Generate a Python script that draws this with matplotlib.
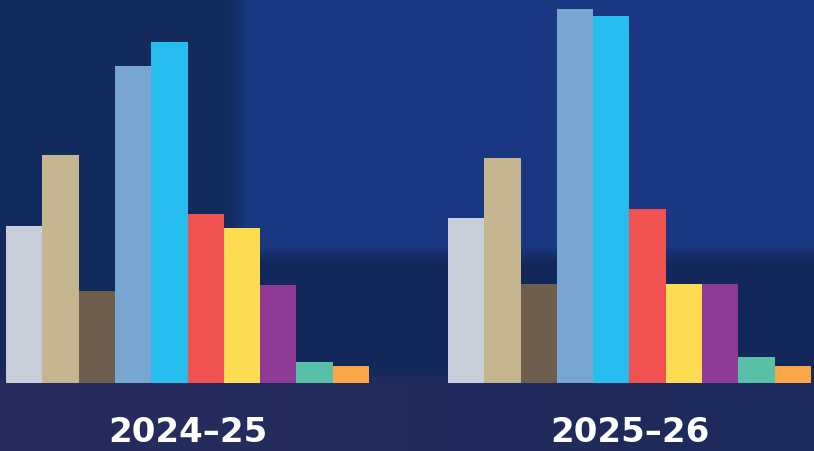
import numpy as np
import matplotlib
matplotlib.use("Agg")
import matplotlib.pyplot as plt
from matplotlib.colors import to_rgb

# bar heights (arbitrary units)
groups = ["2024–25", "2025–26"]
vals_2024 = [157, 228, 92, 317, 341, 169, 155, 98, 21, 17]
vals_2025 = [165, 225, 99, 374, 367, 174, 99, 99, 26, 17]
colors = ["#C8CED9", "#C5B68F", "#6E5E4E", "#79A6D0", "#27BDEF",
          "#F05252", "#FDDC52", "#8E3A96", "#58BFA8", "#FBA647"]

W, H = 814, 451

# background: blurred blocks of navy
def rgb(c):
    return np.array(to_rgb(c))

bg = np.ones((H, W, 3)) * rgb("#132A5D")
bg[:254, 238:] = rgb("#1A3781")
bg[254:376, 238:] = rgb("#12295B")
xs = np.linspace(0, 1, W)[:, None]
bg[376:] = (1 - xs) * rgb("#282C5E") + xs * rgb("#1D2A5B")

def blur(img, k):
    ker = np.ones(k) / k
    out = img.copy()
    for c in range(3):
        ch = np.pad(out[:, :, c], k, mode="edge")
        ch = np.apply_along_axis(lambda r: np.convolve(r, ker, mode="same"), 1, ch)
        ch = np.apply_along_axis(lambda r: np.convolve(r, ker, mode="same"), 0, ch)
        out[:, :, c] = ch[k:-k, k:-k]
    return out

bg = blur(bg, 17)

fig = plt.figure(figsize=(8.14, 4.51), dpi=100)
ax = fig.add_axes([0, 0, 1, 1])
ax.set_axis_off()

unit = 36.3  # px per bar
x0 = -0.5 - 6 / unit
x1 = x0 + W / unit
ax.imshow(bg, extent=[x0, x1, -68, 383], aspect="auto", zorder=0)

n = len(colors)
offset = 12.176
pos1 = np.arange(n)
pos2 = np.arange(n) + offset
ax.bar(pos1, vals_2024, width=1.0, color=colors, zorder=2, linewidth=0)
ax.bar(pos2, vals_2025, width=1.0, color=colors, zorder=2, linewidth=0)

for lab, c in zip(groups, [pos1.mean(), pos2.mean()]):
    ax.text(c, -50, lab, ha="center", va="center", color="white",
            fontsize=24.5, fontweight="bold", family="DejaVu Sans", zorder=3)

ax.set_xlim(x0, x1)
ax.set_ylim(-68, 383)

fig.savefig("out.png", dpi=100)
